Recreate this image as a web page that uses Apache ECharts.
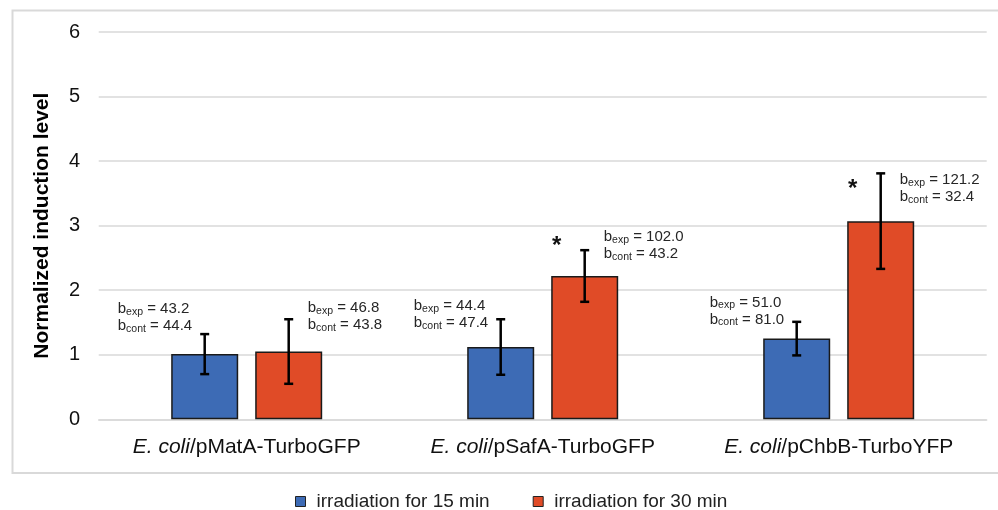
<!DOCTYPE html>
<html>
<head>
<meta charset="utf-8">
<script src="https://cdn.jsdelivr.net/npm/echarts@6/dist/echarts.min.js"></script>
<style>
html,body{margin:0;padding:0;background:#fff;}
#chart{width:998px;height:510px;}
</style>
</head>
<body>
<div id="chart"></div>
<script>
// ---- data ----
const categories = ['E. coli/pMatA-TurboGFP', 'E. coli/pSafA-TurboGFP', 'E. coli/pChbB-TurboYFP'];
const seriesNames = ['irradiation for 15 min', 'irradiation for 30 min'];
const mean15 = [1.01, 1.12, 1.25];
const err15 = [0.31, 0.43, 0.26];
const mean30 = [1.05, 2.22, 3.07];
const err30 = [0.50, 0.40, 0.74];
const bExp15 = [43.2, 44.4, 51.0];
const bCont15 = [44.4, 47.4, 81.0];
const bExp30 = [46.8, 102.0, 121.2];
const bCont30 = [43.8, 43.2, 32.4];
const significant30 = [false, true, true];
const yTicks = [0, 1, 2, 3, 4, 5, 6];
// annotation anchor heights (data units)
const labelY15 = [1.71, 1.75, 1.81];
const labelY30 = [1.72, 2.82, 3.71];
const starY30 = [null, 2.67, 3.54];

// ---- style ----
const FONT = "'Liberation Sans', Arial, sans-serif";
const BLUE = '#3d6bb5';
const RED = '#e04b27';
const BAR_W = 67;
const BAR_GAP = 17;
const OFF = (BAR_W + BAR_GAP) / 2;

const chart = echarts.init(document.getElementById('chart'));

function errData(mean, err) {
  return mean.map((m, i) => [i, m - err[i], m + err[i]]);
}
function errRender(sign) {
  return function (params, api) {
    const lo = api.coord([api.value(0), api.value(1)]);
    const hi = api.coord([api.value(0), api.value(2)]);
    const x = lo[0] + sign * OFF;
    const cap = 4.5;
    const st = { stroke: '#000', lineWidth: 2.5 };
    return {
      type: 'group',
      children: [
        { type: 'line', shape: { x1: x, y1: lo[1], x2: x, y2: hi[1] }, style: st },
        { type: 'line', shape: { x1: x - cap, y1: hi[1], x2: x + cap, y2: hi[1] }, style: st },
        { type: 'line', shape: { x1: x - cap, y1: lo[1], x2: x + cap, y2: lo[1] }, style: st }
      ]
    };
  };
}
const rich = {
  b: { fontSize: 15, lineHeight: 17, fontFamily: FONT, color: '#262626' },
  s: { fontSize: 10.5, lineHeight: 9, verticalAlign: 'bottom', fontFamily: FONT, color: '#262626' }
};
function annData(exp, cont, ys) {
  return exp.map((e, i) => [i, ys[i], e, cont[i]]);
}
function annRender(dx) {
  return function (params, api) {
    const p = api.coord([api.value(0), api.value(1)]);
    const txt = '{b|b}{s|exp}{b| = ' + api.value(2).toFixed(1) + '}\n{b|b}{s|cont}{b| = ' + api.value(3).toFixed(1) + '}';
    return {
      type: 'text',
      style: {
        x: p[0] + dx, y: p[1] - 8.5, text: txt, rich: rich,
        align: 'left', verticalAlign: 'top', font: '15px ' + FONT, fill: '#262626'
      }
    };
  };
}
const starData = starY30.map((y, i) => significant30[i] ? [i, y] : null).filter(d => d);

const option = {
  animation: false,
  backgroundColor: '#fff',
  textStyle: { fontFamily: FONT },
  graphic: [{
    type: 'rect', left: 10, top: 8, z: -10,
    shape: { x: 0, y: 0, width: 995, height: 462.5 },
    style: { fill: 'none', stroke: '#d9d9d9', lineWidth: 2 }
  }],
  grid: { left: 98.7, right: 11.3, top: 32, bottom: 90.7, containLabel: false },
  legend: {
    data: seriesNames,
    left: 290, top: 487,
    icon: 'rect', itemWidth: 10, itemHeight: 10, itemGap: 43,
    itemStyle: { borderColor: '#222', borderWidth: 1 },
    textStyle: { fontSize: 19, color: '#222', fontFamily: FONT, padding: [0, 0, 0, 6] }
  },
  xAxis: {
    type: 'category', data: categories,
    axisLine: { lineStyle: { color: '#d9d9d9', width: 1.5 } },
    axisTick: { show: false },
    axisLabel: {
      interval: 0, hideOverlap: false,
      margin: 17, color: '#111', fontSize: 21, fontFamily: FONT,
      formatter: function (v) { const k = v.indexOf('/'); return '{i|' + v.slice(0, k) + '}/' + v.slice(k + 1); },
      rich: { i: { fontStyle: 'italic', fontSize: 21, fontFamily: FONT, color: '#111' } }
    }
  },
  yAxis: {
    type: 'value', min: yTicks[0], max: yTicks[yTicks.length - 1], interval: 1,
    name: 'Normalized induction level', nameLocation: 'middle', nameRotate: 90, nameGap: 46,
    nameTextStyle: { fontSize: 21, fontWeight: 'bold', color: '#000', fontFamily: FONT },
    axisLine: { show: false }, axisTick: { show: false },
    axisLabel: { margin: 18.7, fontSize: 20, color: '#111', fontFamily: FONT },
    splitLine: { lineStyle: { color: '#d9d9d9', width: 1.5 } }
  },
  series: [
    { name: seriesNames[0], type: 'bar', data: mean15, barWidth: BAR_W, barGap: (BAR_GAP / BAR_W * 100) + '%',
      itemStyle: { color: BLUE, borderColor: '#1a1a1a', borderWidth: 1.5 } },
    { name: seriesNames[1], type: 'bar', data: mean30, barWidth: BAR_W,
      itemStyle: { color: RED, borderColor: '#1a1a1a', borderWidth: 1.5 } },
    { type: 'custom', data: errData(mean15, err15), renderItem: errRender(-1), z: 5, silent: true },
    { type: 'custom', data: errData(mean30, err30), renderItem: errRender(1), z: 5, silent: true },
    { type: 'custom', data: annData(bExp15, bCont15, labelY15), renderItem: annRender(-129), z: 6, silent: true },
    { type: 'custom', data: annData(bExp30, bCont30, labelY30), renderItem: annRender(61), z: 6, silent: true },
    { type: 'custom', data: starData, z: 6, silent: true,
      renderItem: function (params, api) {
        const p = api.coord([api.value(0), api.value(1)]);
        return { type: 'text', style: { x: p[0] + 14, y: p[1] - 1, text: '*', align: 'center', verticalAlign: 'middle',
          font: 'bold 24px ' + FONT, fill: '#111' } };
      } }
  ]
};
chart.setOption(option);
</script>
</body>
</html>
